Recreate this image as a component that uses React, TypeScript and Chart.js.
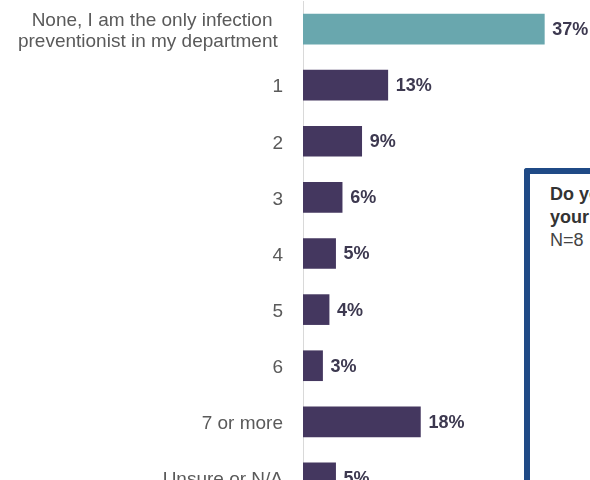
import React, { useEffect, useRef } from "react";
import { Chart, registerables } from "chart.js";

Chart.register(...registerables);

const categories: (string | string[])[] = [
  ["None, I am the only infection  ", "preventionist in my department "],
  "1",
  "2",
  "3",
  "4",
  "5",
  "6",
  "7 or more",
  "Unsure or N/A",
];
const values = [37, 13, 9, 6, 5, 4, 3, 18, 5];
const valueLabels = values.map((v) => v + "%");
const highlightIndex = 0;

const FONT = "'Liberation Sans', Arial, sans-serif";
const TEAL = "#69a7ae";
const PURPLE = "#44375f";

const valueLabelPlugin = {
  id: "valueLabels",
  afterDatasetsDraw(chart: any) {
    const ctx = chart.ctx;
    const meta = chart.getDatasetMeta(0);
    ctx.save();
    ctx.font = `bold 18px ${FONT}`;
    ctx.fillStyle = "#3d3950";
    ctx.textBaseline = "middle";
    ctx.textAlign = "left";
    meta.data.forEach((bar: any, i: number) => {
      ctx.fillText(valueLabels[i], bar.x + 8, bar.y + 1);
    });
    ctx.restore();
  },
};

export default function App() {
  const ref = useRef<HTMLCanvasElement>(null);

  useEffect(() => {
    document.body.style.margin = "0";
    const canvas = ref.current!;
    const chart = new Chart(canvas, {
      type: "bar",
      data: {
        labels: categories,
        datasets: [
          {
            data: values,
            backgroundColor: (c: any) => (c.dataIndex === highlightIndex ? TEAL : PURPLE),
            borderWidth: 0,
            barThickness: 30,
          },
        ],
      },
      options: {
        indexAxis: "y",
        responsive: false,
        animation: false,
        devicePixelRatio: 1,
        layout: { padding: { top: 1, left: 0, right: 0, bottom: 0 } },
        plugins: {
          legend: { display: false },
          tooltip: { enabled: false },
        },
        scales: {
          x: { display: false, min: 0, max: 44 },
          y: {
            grid: { display: false, drawTicks: false },
            border: { display: true, color: "#d9d9d9", width: 1 },
            ticks: {
              autoSkip: false,
              color: "#5a5a5a",
              padding: 20,
              labelOffset: 2,
              font: { size: 19, family: FONT, lineHeight: 1.12 },
            },
            afterFit: (s: any) => {
              s.width = 303;
              s.paddingTop = 0;
              s.paddingBottom = 0;
            },
          },
        },
      } as any,
      plugins: [valueLabelPlugin],
    });
    return () => chart.destroy();
  }, []);

  return (
    <div
      style={{
        position: "fixed",
        left: 0,
        top: 0,
        width: 590,
        height: 480,
        overflow: "hidden",
        background: "#fff",
      }}
    >
      <canvas ref={ref} width={590} height={506} style={{ display: "block" }} />
      <div
        style={{
          position: "absolute",
          left: 524,
          top: 168,
          width: 300,
          height: 400,
          borderLeft: "6px solid #1f4a86",
          borderTop: "6px solid #1f4a86",
          borderTopLeftRadius: 3,
          background: "#fff",
          boxSizing: "border-box",
          paddingLeft: 20,
          paddingTop: 9,
          fontFamily: FONT,
          fontSize: 18,
          lineHeight: "23px",
          color: "#333",
          whiteSpace: "nowrap",
        }}
      >
        <div style={{ fontWeight: "bold" }}>Do you</div>
        <div style={{ fontWeight: "bold" }}>your</div>
        <div style={{ color: "#444" }}>N=8</div>
      </div>
    </div>
  );
}
